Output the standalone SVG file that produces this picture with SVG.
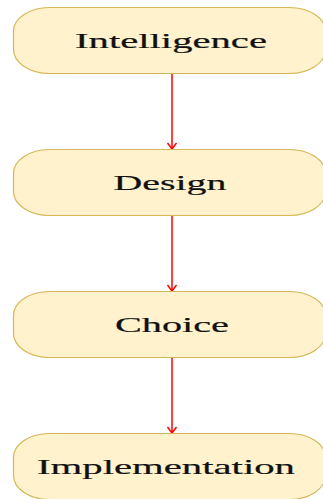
<svg xmlns="http://www.w3.org/2000/svg" width="323" height="499" viewBox="0 0 323 499">
  <style>
    .box { fill: #fff2cc; stroke: #d6b656; stroke-width: 1.2; }
    .label { font-family: "Liberation Serif", "Times New Roman", serif; font-size: 22px; fill: #111; stroke: #111; stroke-width: 0.2; text-anchor: middle; }
    .edge { stroke: #ff0000; stroke-width: 1.5; fill: none; }
  </style>
  <defs>
    <marker id="arrow" markerWidth="12" markerHeight="12" refX="10" refY="6" orient="auto" markerUnits="userSpaceOnUse">
      <path d="M4,1.5 L10,6 L4,10.5" fill="none" stroke="#ff0000" stroke-width="1.5"/>
    </marker>
  </defs>

  <g id="connectors">
    <line class="edge" x1="172" y1="74" x2="172" y2="149" marker-end="url(#arrow)"/>
    <line class="edge" x1="172" y1="216" x2="172" y2="291" marker-end="url(#arrow)"/>
    <line class="edge" x1="172" y1="358" x2="172" y2="433" marker-end="url(#arrow)"/>
  </g>

  <g id="intelligence">
    <rect class="box" x="13.5" y="7.5" width="312" height="66" rx="36" ry="24"/>
    <text class="label" x="171" y="48" textLength="192" lengthAdjust="spacingAndGlyphs">Intelligence</text>
  </g>
  <g id="design">
    <rect class="box" x="13.5" y="149.5" width="312" height="66" rx="36" ry="24"/>
    <text class="label" x="170" y="190" textLength="113" lengthAdjust="spacingAndGlyphs">Design</text>
  </g>
  <g id="choice">
    <rect class="box" x="13.5" y="291.5" width="312" height="66" rx="36" ry="24"/>
    <text class="label" x="172" y="332" textLength="114" lengthAdjust="spacingAndGlyphs">Choice</text>
  </g>
  <g id="implementation">
    <rect class="box" x="13.5" y="433.5" width="312" height="66" rx="36" ry="24"/>
    <text class="label" x="166" y="474" textLength="258" lengthAdjust="spacingAndGlyphs">Implementation</text>
  </g>
</svg>
